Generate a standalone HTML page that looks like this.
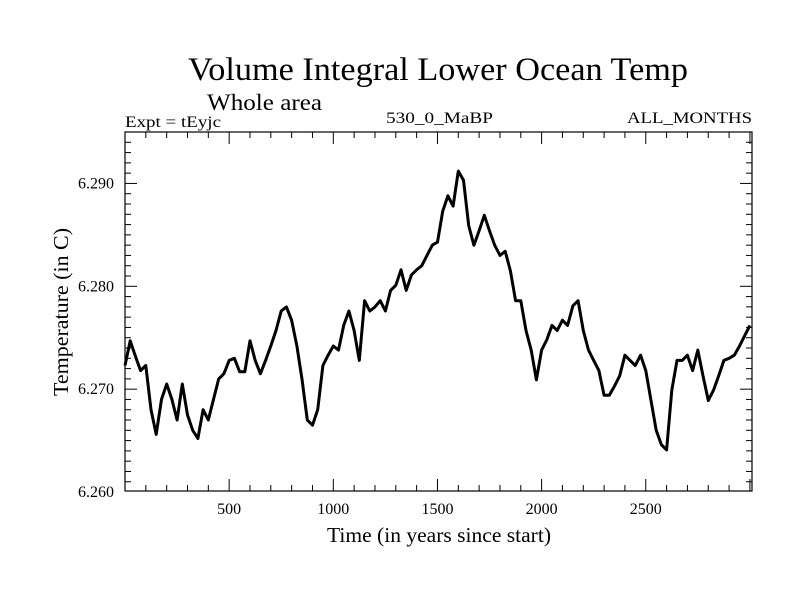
<!DOCTYPE html>
<html><head><meta charset="utf-8"><style>
html,body{margin:0;padding:0;background:#fff;}
svg{display:block;font-family:"Liberation Serif",serif;}
</style></head><body>
<svg id="chart" width="800" height="600" viewBox="0 0 800 600">
<text x="188" y="80" font-size="33" textLength="500" lengthAdjust="spacingAndGlyphs">Volume Integral Lower Ocean Temp</text>
<text x="207" y="110" font-size="23" textLength="115" lengthAdjust="spacingAndGlyphs">Whole area</text>
<text x="125" y="127" font-size="16" textLength="96" lengthAdjust="spacingAndGlyphs">Expt = tEyjc</text>
<text x="386" y="123" font-size="16" textLength="107" lengthAdjust="spacingAndGlyphs">530_0_MaBP</text>
<text x="627" y="123" font-size="16" textLength="125" lengthAdjust="spacingAndGlyphs">ALL_MONTHS</text>
<text x="327" y="542" font-size="21" textLength="224" lengthAdjust="spacingAndGlyphs">Time (in years since start)</text>
<text transform="translate(68,312) rotate(-90)" font-size="21" text-anchor="middle" textLength="168" lengthAdjust="spacingAndGlyphs">Temperature (in C)</text>
<g id="ticks"></g>
<path id="line" fill="none" stroke="#000" stroke-width="3" stroke-linejoin="round"/>
<rect x="125" y="132" width="627" height="359" fill="none" stroke="#000" stroke-width="1.2"/>
</svg>
<script>
const years = [];
for (let i = 0; i <= 120; i++) years.push(i * 25);
const temps = [6.2723,6.2747,6.2732,6.2718,6.2723,6.2680,6.2656,6.2690,6.2705,6.2690,
6.2670,6.2705,6.2675,6.2660,6.2652,6.2680,6.2670,6.2690,6.2710,6.2715,
6.2728,6.2730,6.2717,6.2717,6.2747,6.2728,6.2715,6.2728,6.2742,6.2757,
6.2776,6.2780,6.2767,6.2742,6.2709,6.2670,6.2665,6.2680,6.2723,6.2733,
6.2742,6.2738,6.2762,6.2776,6.2757,6.2728,6.2786,6.2776,6.2780,6.2786,
6.2776,6.2796,6.2801,6.2816,6.2796,6.2811,6.2816,6.2820,6.2830,6.2840,
6.2843,6.2873,6.2888,6.2878,6.2912,6.2903,6.2859,6.2840,6.2854,6.2869,
6.2854,6.2840,6.2830,6.2834,6.2815,6.2786,6.2786,6.2757,6.2738,6.2709,
6.2738,6.2748,6.2762,6.2757,6.2767,6.2762,6.2781,6.2786,6.2757,6.2738,
6.2728,6.2718,6.2694,6.2694,6.2703,6.2713,6.2733,6.2728,6.2723,6.2733,
6.2718,6.2689,6.2660,6.2646,6.2641,6.2699,6.2728,6.2728,6.2733,6.2718,
6.2738,6.2713,6.2689,6.2699,6.2713,6.2728,6.2730,6.2733,6.2742,6.2752,6.2762];
const xTickLabels = [500,1000,1500,2000,2500];
const yTickLabels = [6.260,6.270,6.280,6.290];
const X0=125,X1=752,Y0=491,Y1=132;
const xMin=0,xMax=3010,yMin=6.2601,yMax=6.2950;
const sx=v=>X0+(v-xMin)/(xMax-xMin)*(X1-X0);
const sy=v=>Y0-(v-yMin)/(yMax-yMin)*(Y0-Y1);
const NS="http://www.w3.org/2000/svg";
const g=document.getElementById('ticks');
function ln(x1,y1,x2,y2,name){const l=document.createElementNS(NS,'line');
l.setAttribute('x1',x1);l.setAttribute('y1',y1);l.setAttribute('x2',x2);l.setAttribute('y2',y2);
l.setAttribute('stroke','#000');l.setAttribute('stroke-width','1');


g.appendChild(l);}
function tx(x,y,s,anchor,name){const t=document.createElementNS(NS,'text');
t.setAttribute('x',x);t.setAttribute('y',y);t.setAttribute('font-size','16');t.setAttribute('text-anchor',anchor);t.textContent=s;


g.appendChild(t);}
for(let v=100;v<3010;v+=100){const major=v%500===0;const L=major?12:6;const x=sx(v);
ln(x,Y0,x,Y0-L,'x-tick');ln(x,Y1,x,Y1+L,'x-tick-top');}
xTickLabels.forEach(v=>tx(sx(v),514,String(v),'middle','x-tick-label'));
for(let k=1;k<35;k++){const v=6.260+k*0.001;const major=k%10===0;const L=major?12:6;const y=sy(v);
ln(X0,y,X0+L,y,'y-tick');ln(X1,y,X1-L,y,'y-tick-right');}
yTickLabels.forEach(v=>tx(114,sy(v)+5,v.toFixed(3),'end','y-tick-label'));
let d='';temps.forEach((t,i)=>{d+=(i?'L':'M')+sx(years[i]).toFixed(1)+','+sy(t).toFixed(1);});
document.getElementById('line').setAttribute('d',d);
</script>
</body></html>
